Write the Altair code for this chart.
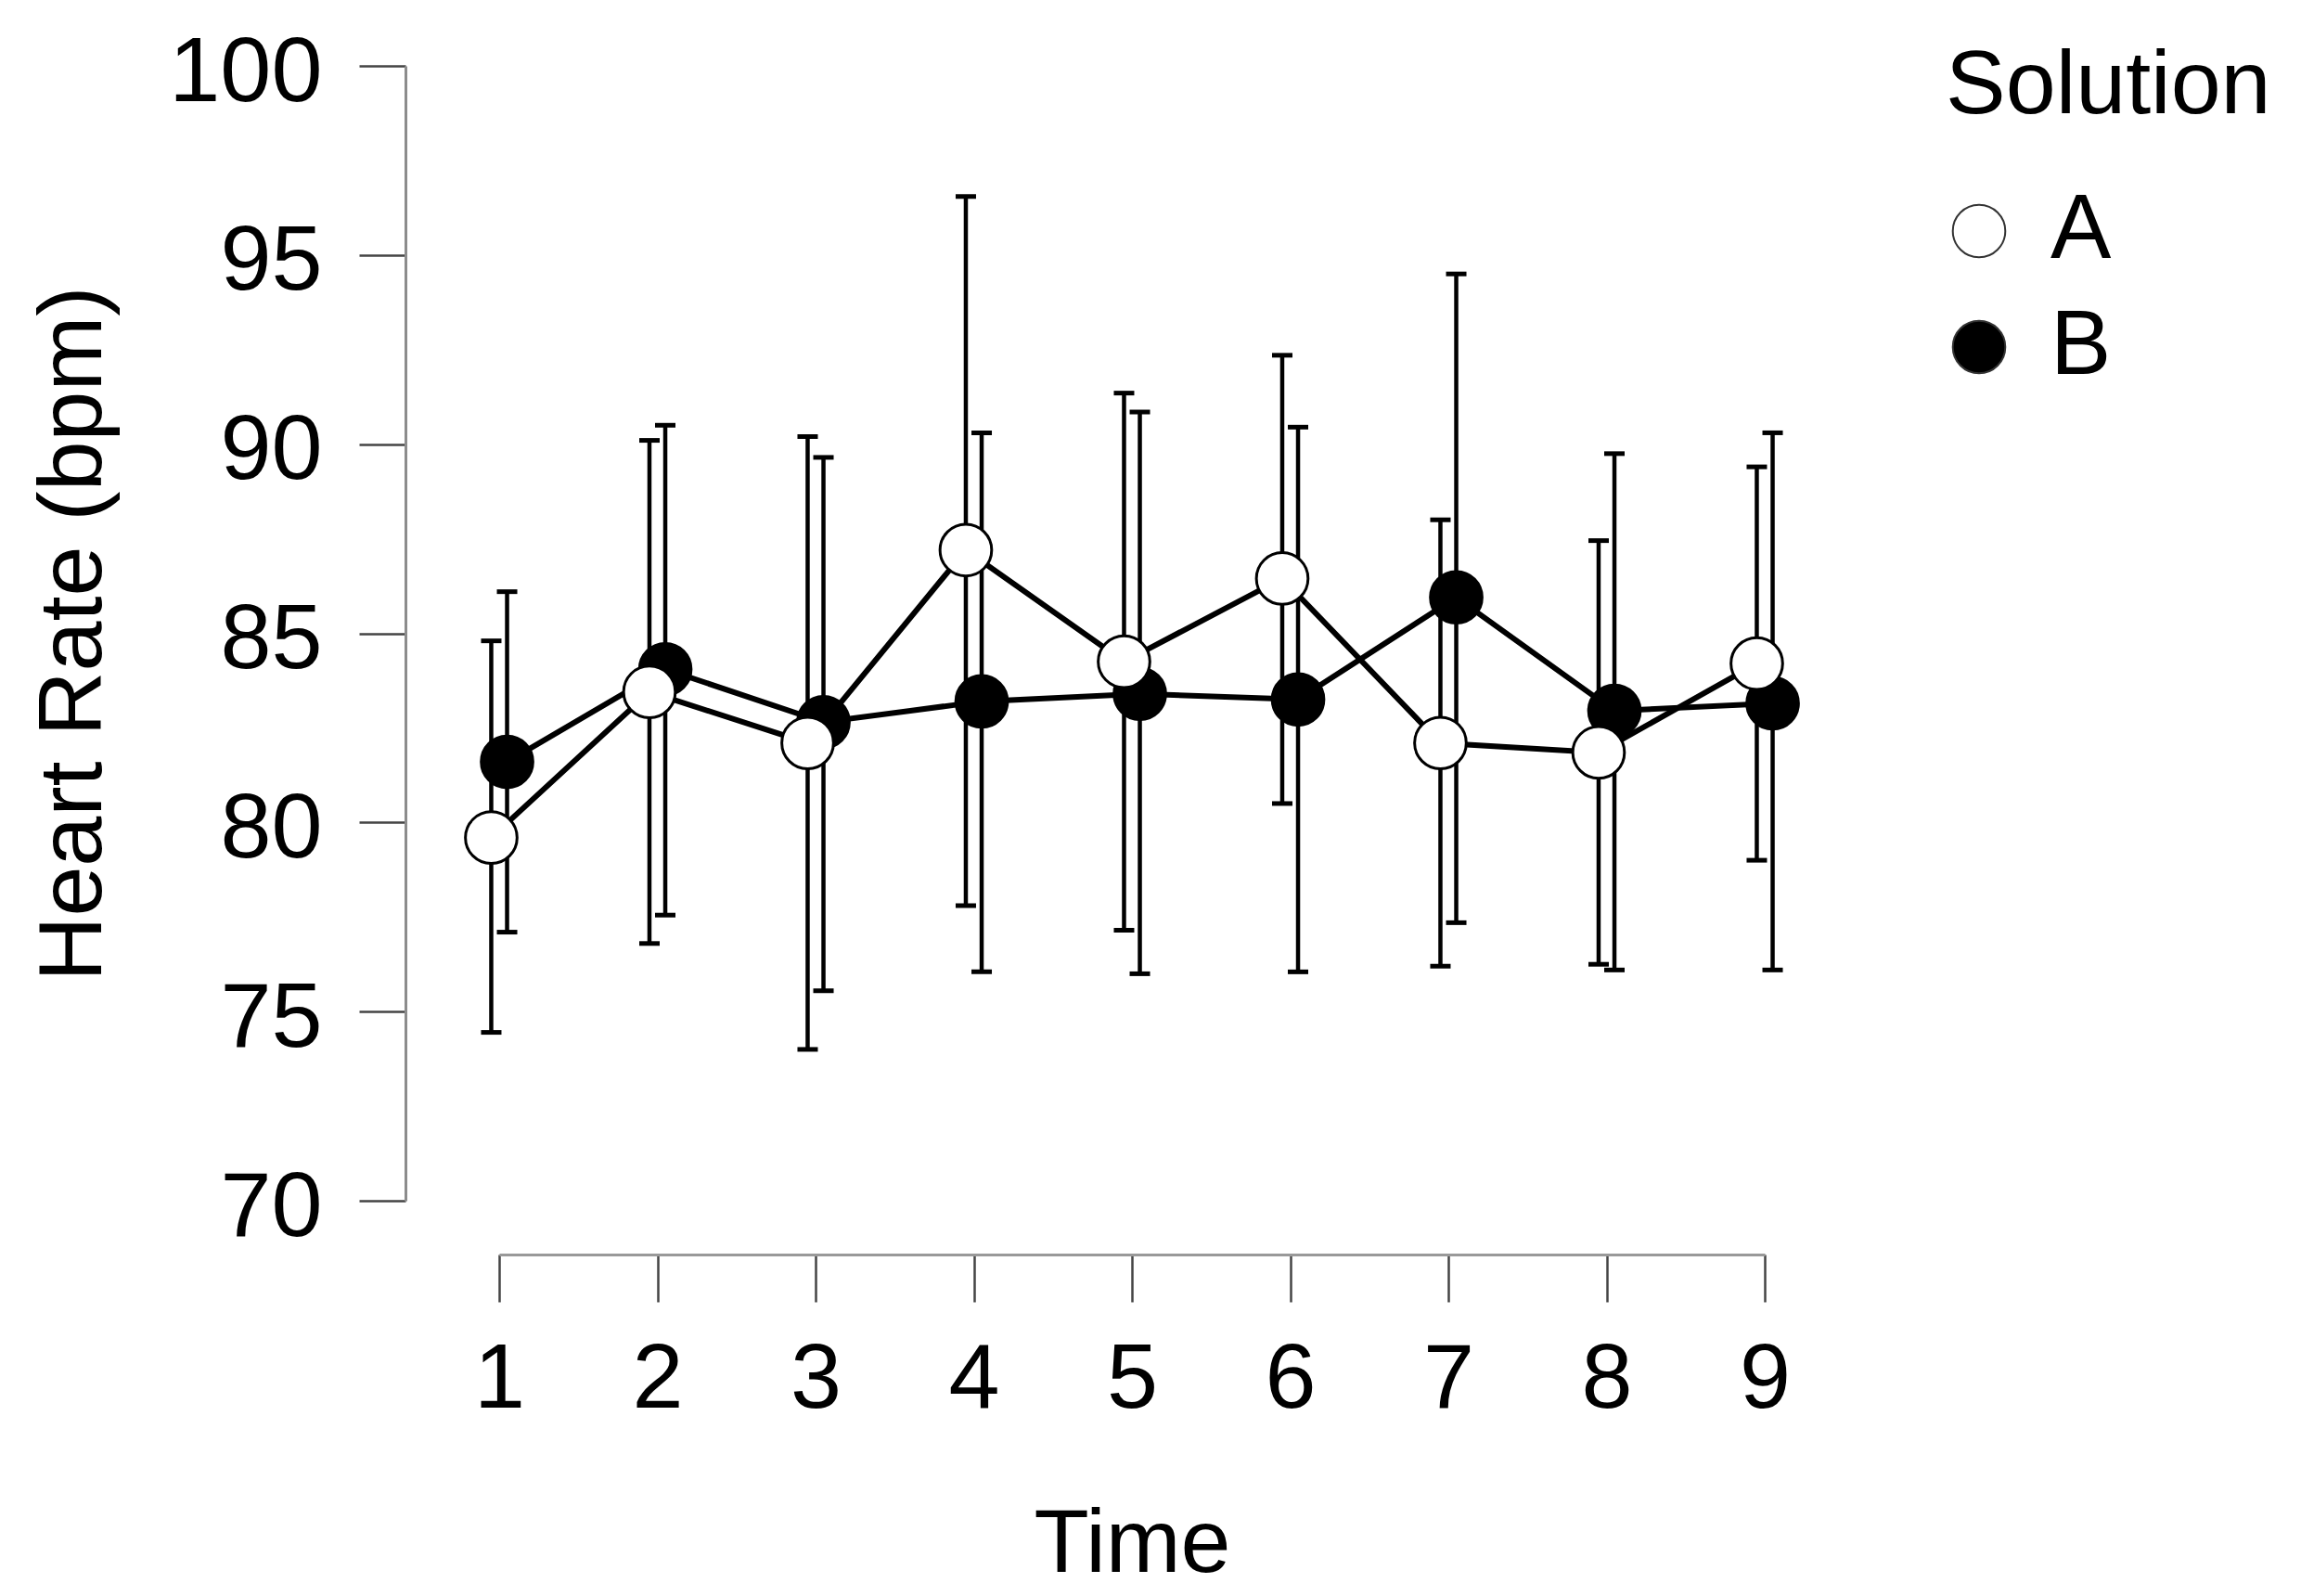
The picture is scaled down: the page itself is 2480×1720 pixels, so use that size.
import altair as alt
import pandas as pd

FONT = "Liberation Sans, Arial, Helvetica, sans-serif"

times = [1, 2, 3, 4, 5, 6, 7, 8, 9]
solutions = ["A", "B"]

a_mean = [79.6, 83.45, 82.1, 87.2, 84.25, 86.45, 82.1, 81.85, 84.2]
a_hi = [84.8, 90.1, 90.2, 96.55, 91.35, 92.35, 88.0, 87.45, 89.4]
a_lo = [74.45, 76.8, 74.0, 77.8, 77.15, 80.5, 76.2, 76.25, 79.0]

b_mean = [81.6, 84.05, 82.65, 83.2, 83.4, 83.25, 85.95, 82.95, 83.15]
b_hi = [86.1, 90.5, 89.65, 90.3, 90.85, 90.45, 94.5, 89.75, 90.3]
b_lo = [77.1, 77.55, 75.55, 76.05, 76.0, 76.05, 77.35, 76.1, 76.1]

y_ticks = [70, 75, 80, 85, 90, 95, 100]

rows = []
for i, t in enumerate(times):
    rows.append(dict(time=t, solution="B", mean=b_mean[i], lo=b_lo[i], hi=b_hi[i], ord=0))
for i, t in enumerate(times):
    rows.append(dict(time=t, solution="A", mean=a_mean[i], lo=a_lo[i], hi=a_hi[i], ord=1))
df = pd.DataFrame(rows)

base = alt.Chart(df).transform_calculate(
    xpos="datum.time + (datum.solution == 'A' ? -0.05 : 0.05)"
)

x_axis = alt.Axis(
    values=times, format="d", offset=58, tickSize=51, tickWidth=2.5, tickColor="#444444",
    domainColor="#999999", domainWidth=3, grid=False,
    labelFont=FONT, labelFontSize=99, labelColor="black", labelPadding=113,
    labelBaseline="alphabetic", labelFlush=False, labelOverlap=False,
    titleFont=FONT, titleFontSize=97, titleFontWeight="normal", titleColor="black",
    titleY=341, titleBaseline="alphabetic",
)
y_axis = alt.Axis(
    values=y_ticks, offset=101, tickSize=50, tickWidth=2.5, tickColor="#444444",
    domainColor="#8c8c8c", domainWidth=3, grid=False,
    labelFont=FONT, labelFontSize=99, labelColor="black", labelPadding=40,
    labelBaseline="alphabetic", labelOffset=37, labelFlush=False, labelOverlap=False,
    titleFont=FONT, titleFontSize=97, titleFontWeight="normal", titleColor="black",
    titleX=-329, titleBaseline="alphabetic",
)

x_scale = alt.Scale(domain=[1, 9], nice=False, zero=False)
y_scale = alt.Scale(domain=[70, 100], nice=False, zero=False)


def X():
    return alt.X("xpos:Q", scale=x_scale, axis=x_axis, title="Time")


def Y(field):
    return alt.Y(field, scale=y_scale, axis=y_axis, title="Heart Rate (bpm)")


rules = base.mark_rule(color="black", strokeWidth=4.5).encode(
    x=X(), y=Y("lo:Q"), y2="hi:Q"
)
cap_hi = base.mark_tick(orient="horizontal", size=22, thickness=5, color="black", opacity=1).encode(
    x=X(), y=Y("hi:Q")
)
cap_lo = base.mark_tick(orient="horizontal", size=22, thickness=5, color="black", opacity=1).encode(
    x=X(), y=Y("lo:Q")
)
lines = base.mark_line(color="black", strokeWidth=6).encode(
    x=X(), y=Y("mean:Q"), detail="solution:N"
)
points = base.mark_circle(size=3100, stroke="black", strokeWidth=3, opacity=1).encode(
    x=X(),
    y=Y("mean:Q"),
    fill=alt.Fill(
        "solution:N",
        scale=alt.Scale(domain=solutions, range=["white", "black"]),
        legend=alt.Legend(
            title="Solution", orient="none", legendX=1559, legendY=-26, padding=0,
            titleFont=FONT, titleFontSize=97, titleFontWeight="normal", titleColor="black",
            titlePadding=58, titleLimit=2000, labelLimit=2000,
            labelFont=FONT, labelFontSize=98, labelColor="black", labelOffset=28,
            symbolType="circle", symbolSize=3200, symbolStrokeColor="#333333",
            symbolStrokeWidth=2, symbolOffset=-13, rowPadding=27,
        ),
    ),
    order=alt.Order("ord:Q"),
)

chart = alt.layer(rules, cap_hi, cap_lo, lines, points).properties(
    width=1364,
    height=1223,
    autosize=alt.AutoSizeParams(type="none"),
    padding={"left": 530, "top": 63, "right": 560, "bottom": 405},
    background="white",
).configure_view(strokeWidth=0)

chart.save("out.html", embed_options={"renderer": "svg", "actions": False})
